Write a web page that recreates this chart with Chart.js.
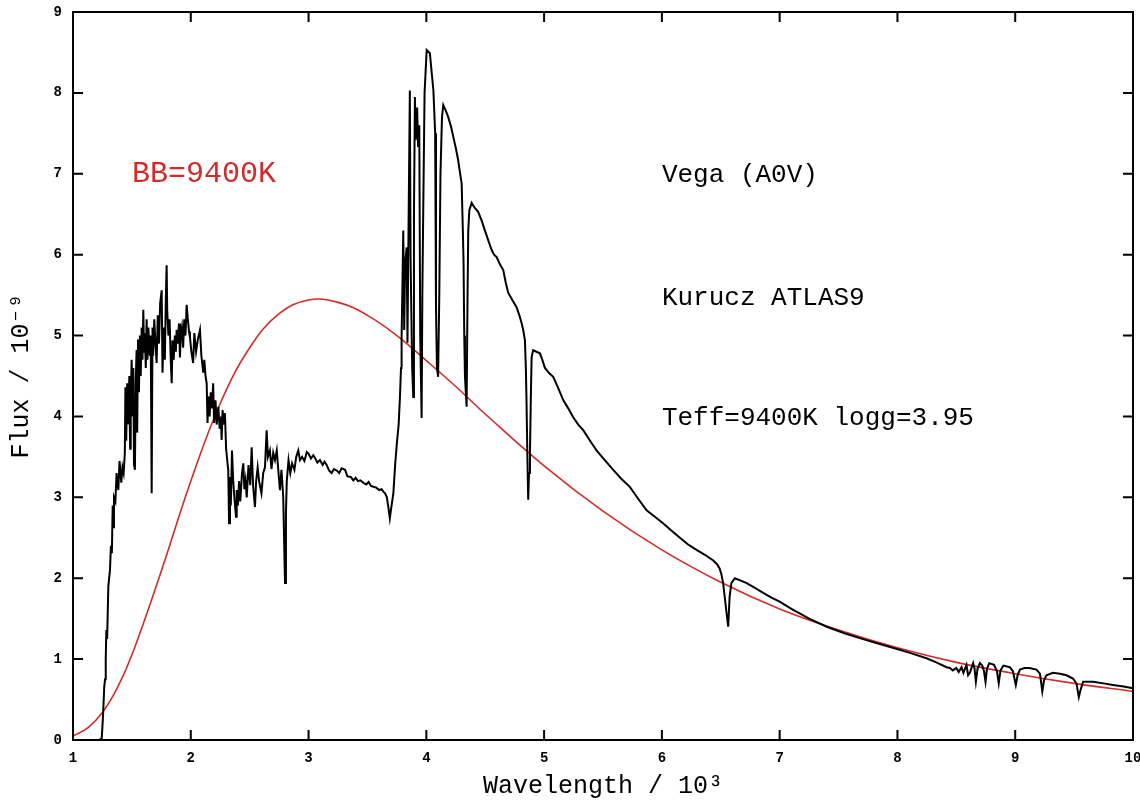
<!DOCTYPE html>
<html>
<head>
<meta charset="utf-8">
<script src="https://cdn.jsdelivr.net/npm/chart.js@4.4.1/dist/chart.umd.min.js"></script>
<style>
  html, body { margin: 0; padding: 0; background: #fff; }
  #wrap { width: 1140px; height: 809px; }
</style>
</head>
<body>
<div id="wrap"><canvas id="spectrum" width="1140" height="809"></canvas></div>
<script>
// Kurucz model spectrum of Vega (wavelength / 10^3, flux / 10^-9)
const specWave = [
  1.00, 1.22, 1.244, 1.255, 1.265, 1.272, 1.278, 1.283, 1.29, 1.30, 1.314, 1.322, 1.33, 1.337, 1.343, 1.348,
  1.36, 1.37, 1.385, 1.395, 1.41, 1.42, 1.43, 1.44, 1.445, 1.452, 1.46, 1.47, 1.478, 1.485, 1.49, 1.498,
  1.505, 1.512, 1.518, 1.526, 1.532, 1.54, 1.545, 1.552, 1.56, 1.568, 1.575, 1.583, 1.59, 1.597, 1.603, 1.61,
  1.618, 1.625, 1.632, 1.64, 1.652, 1.66, 1.668, 1.675, 1.68, 1.69, 1.70, 1.71, 1.72, 1.73, 1.74, 1.753,
  1.76, 1.77, 1.78, 1.788, 1.795, 1.80, 1.81, 1.82, 1.83, 1.838, 1.845, 1.855, 1.865, 1.873, 1.88, 1.89,
  1.90, 1.908, 1.915, 1.925, 1.935, 1.945, 1.955, 1.965, 1.975, 1.985, 1.993, 2.005, 2.02, 2.03, 2.045, 2.06,
  2.078, 2.09, 2.106, 2.115, 2.125, 2.135, 2.142, 2.15, 2.16, 2.17, 2.18, 2.19, 2.198, 2.21, 2.22, 2.234,
  2.245, 2.255, 2.262, 2.27, 2.28, 2.29, 2.30, 2.31, 2.318, 2.325, 2.333, 2.34, 2.35, 2.36, 2.37, 2.384,
  2.39, 2.40, 2.41, 2.42, 2.435, 2.446, 2.455, 2.465, 2.475, 2.49, 2.505, 2.517, 2.525, 2.53, 2.545, 2.555,
  2.568, 2.58, 2.60, 2.615, 2.63, 2.644, 2.655, 2.672, 2.685, 2.70, 2.715, 2.73, 2.745, 2.757, 2.77, 2.785,
  2.80, 2.808, 2.815, 2.83, 2.845, 2.86, 2.88, 2.895, 2.913, 2.927, 2.945, 2.965, 2.985, 3.00, 3.02, 3.04,
  3.054, 3.075, 3.097, 3.12, 3.135, 3.154, 3.175, 3.196, 3.215, 3.24, 3.26, 3.28, 3.31, 3.33, 3.36, 3.38,
  3.40, 3.42, 3.44, 3.465, 3.49, 3.51, 3.53, 3.55, 3.575, 3.60, 3.62, 3.634, 3.65, 3.665, 3.68, 3.69,
  3.70, 3.72, 3.735, 3.75, 3.765, 3.776, 3.785, 3.79, 3.797, 3.804, 3.812, 3.82, 3.833, 3.84, 3.85, 3.86,
  3.866, 3.872, 3.88, 3.889, 3.895, 3.903, 3.91, 3.922, 3.93, 3.94, 3.948, 3.96, 3.966, 3.975, 3.985, 4.003,
  4.03, 4.06, 4.075, 4.082, 4.09, 4.10, 4.11, 4.12, 4.133, 4.144, 4.165, 4.186, 4.21, 4.23, 4.25, 4.27,
  4.285, 4.30, 4.31, 4.316, 4.322, 4.328, 4.342, 4.35, 4.356, 4.365, 4.385, 4.41, 4.44, 4.47, 4.497, 4.525,
  4.554, 4.575, 4.597, 4.625, 4.653, 4.675, 4.695, 4.73, 4.766, 4.79, 4.81, 4.825, 4.837, 4.845, 4.85, 4.858,
  4.865, 4.872, 4.88, 4.888, 4.894, 4.907, 4.935, 4.964, 4.985, 5.007, 5.04, 5.077, 5.12, 5.163, 5.205, 5.247,
  5.29, 5.332, 5.39, 5.445, 5.515, 5.587, 5.655, 5.728, 5.80, 5.87, 5.94, 6.01, 6.08, 6.153, 6.22, 6.294,
  6.365, 6.436, 6.47, 6.49, 6.505, 6.52, 6.535, 6.549, 6.563, 6.575, 6.59, 6.62, 6.67, 6.72, 6.79, 6.86,
  6.93, 7.00, 7.10, 7.25, 7.40, 7.55, 7.68, 7.82, 7.96, 8.10, 8.247, 8.33, 8.417, 8.445, 8.47, 8.50,
  8.52, 8.544, 8.56, 8.586, 8.60, 8.615, 8.643, 8.655, 8.666, 8.68, 8.70, 8.72, 8.735, 8.748, 8.76, 8.78,
  8.82, 8.845, 8.86, 8.875, 8.90, 8.954, 8.98, 9.005, 9.02, 9.04, 9.08, 9.12, 9.18, 9.21, 9.23, 9.245,
  9.265, 9.32, 9.38, 9.435, 9.49, 9.52, 9.54, 9.555, 9.576, 9.66, 9.75, 9.83, 9.92, 10.00
];
const specFlux = [
  0.00, 0.00, 0.02, 0.30, 0.65, 0.75, 1.00, 1.36, 1.25, 1.90, 2.10, 2.40, 2.31, 2.90, 2.63, 3.00,
  2.95, 3.30, 3.09, 3.45, 3.18, 3.37, 3.30, 3.55, 4.36, 3.70, 4.41, 3.90, 4.50, 3.60, 4.20, 4.70,
  4.00, 4.60, 3.40, 3.34, 4.40, 4.82, 3.80, 4.95, 4.30, 5.00, 4.50, 5.10, 4.70, 5.32, 4.80, 5.03,
  4.60, 5.20, 4.70, 5.10, 4.75, 5.00, 3.05, 5.10, 4.75, 5.20, 4.90, 4.66, 5.25, 4.90, 5.40, 5.56,
  4.54, 5.10, 4.70, 5.45, 5.87, 5.31, 5.00, 5.20, 4.70, 4.41, 4.94, 4.70, 5.00, 4.80, 5.07, 4.90,
  5.15, 4.73, 5.00, 5.10, 4.85, 5.20, 5.00, 5.38, 5.20, 5.05, 4.98, 4.80, 4.66, 5.03, 4.80, 4.95,
  5.07, 4.75, 4.54, 4.70, 4.50, 4.41, 3.92, 4.25, 4.00, 4.30, 4.10, 4.41, 3.92, 4.20, 3.90, 4.12,
  3.85, 4.00, 3.71, 4.08, 3.90, 4.04, 3.60, 3.45, 3.34, 2.68, 3.25, 2.90, 3.58, 3.21, 3.00, 2.76,
  3.09, 2.90, 3.20, 2.95, 3.30, 3.42, 3.10, 3.21, 3.00, 3.40, 3.15, 3.62, 3.30, 3.13, 2.88, 3.20,
  3.37, 3.20, 3.05, 3.30, 3.37, 3.83, 3.50, 3.58, 3.35, 3.55, 3.46, 3.58, 3.30, 3.09, 3.34, 3.00,
  1.94, 2.80, 3.20, 3.46, 3.30, 3.42, 3.34, 3.50, 3.58, 3.46, 3.50, 3.45, 3.56, 3.54, 3.48, 3.52,
  3.49, 3.43, 3.46, 3.40, 3.44, 3.40, 3.33, 3.30, 3.35, 3.33, 3.30, 3.36, 3.34, 3.26, 3.25, 3.21,
  3.24, 3.20, 3.21, 3.18, 3.16, 3.19, 3.14, 3.13, 3.12, 3.09, 3.10, 3.07, 3.05, 3.00, 2.85, 2.74,
  2.85, 3.05, 3.40, 3.67, 3.90, 4.24, 4.60, 4.98, 5.60, 6.30, 5.07, 5.90, 6.09, 4.91, 6.50, 8.03,
  6.00, 5.35, 4.60, 4.24, 6.50, 7.95, 7.42, 7.82, 7.33, 7.60, 5.00, 3.98, 5.50, 6.71, 8.00, 8.53,
  8.49, 8.03, 7.50, 5.35, 4.60, 4.49, 5.50, 7.00, 7.70, 7.85, 7.78, 7.70, 7.58, 7.45, 7.32, 7.17,
  7.02, 6.88, 6.30, 5.90, 5.00, 4.49, 4.12, 5.50, 6.30, 6.55, 6.64, 6.58, 6.53, 6.42, 6.30, 6.18,
  6.06, 6.00, 5.97, 5.88, 5.81, 5.65, 5.53, 5.44, 5.35, 5.25, 5.15, 5.05, 4.94, 4.60, 4.24, 3.50,
  2.97, 3.30, 3.55, 4.30, 4.73, 4.82, 4.80, 4.78, 4.70, 4.60, 4.54, 4.49, 4.35, 4.20, 4.10, 3.99,
  3.90, 3.83, 3.70, 3.58, 3.46, 3.34, 3.23, 3.13, 2.98, 2.84, 2.76, 2.68, 2.59, 2.50, 2.42, 2.35,
  2.29, 2.22, 2.17, 2.12, 2.05, 1.94, 1.75, 1.57, 1.40, 1.77, 1.94, 2.00, 1.97, 1.94, 1.88, 1.82,
  1.76, 1.71, 1.62, 1.50, 1.40, 1.32, 1.26, 1.20, 1.14, 1.08, 1.01, 0.96, 0.90, 0.89, 0.86, 0.89,
  0.84, 0.90, 0.83, 0.93, 0.80, 0.83, 0.95, 0.88, 0.72, 0.88, 0.95, 0.92, 0.85, 0.72, 0.88, 0.95,
  0.93, 0.85, 0.70, 0.86, 0.92, 0.90, 0.85, 0.68, 0.80, 0.87, 0.89, 0.89, 0.87, 0.82, 0.60, 0.74,
  0.80, 0.83, 0.82, 0.80, 0.76, 0.70, 0.53, 0.62, 0.72, 0.72, 0.70, 0.68, 0.66, 0.64
];

// Blackbody curve (red)
const bbWave = [1.00, 1.125, 1.25, 1.375, 1.50, 1.75, 2.00, 2.25, 2.50, 2.75, 3.00, 3.25, 3.50, 3.75, 4.00, 4.25, 4.50, 5.00, 5.50, 6.00, 6.50, 7.00, 7.50, 8.00, 8.50, 9.00, 9.50, 10.00];
const bbFlux = [0.05, 0.15, 0.34, 0.64, 1.05, 2.09, 3.20, 4.16, 4.85, 5.27, 5.44, 5.41, 5.25, 5.00, 4.69, 4.37, 4.03, 3.39, 2.83, 2.35, 1.95, 1.62, 1.36, 1.14, 0.96, 0.82, 0.70, 0.60];

const xTicks = [1, 2, 3, 4, 5, 6, 7, 8, 9, 10];
const yTicks = [0, 1, 2, 3, 4, 5, 6, 7, 8, 9];

const MONO = '"Liberation Mono", "DejaVu Sans Mono", monospace';
const RED = '#d42a2a';

const toPoints = (xs, ys) => xs.map((x, i) => ({ x: x, y: ys[i] }));

// frame + inward tick marks on all four sides, plus the text labels
const framePlugin = {
  id: 'frame',
  afterDatasetsDraw(chart) {
    const { ctx, chartArea: a, scales } = chart;
    const xs = scales.x, ys = scales.y;
    ctx.save();
    ctx.strokeStyle = '#000';
    ctx.lineWidth = 2;
    ctx.strokeRect(a.left, a.top, a.right - a.left, a.bottom - a.top);
    const len = 10;
    ctx.beginPath();
    xTicks.forEach(v => {
      const px = xs.getPixelForValue(v);
      ctx.moveTo(px, a.bottom); ctx.lineTo(px, a.bottom - len);
      ctx.moveTo(px, a.top); ctx.lineTo(px, a.top + len);
    });
    yTicks.forEach(v => {
      const py = ys.getPixelForValue(v);
      ctx.moveTo(a.left, py); ctx.lineTo(a.left + len, py);
      ctx.moveTo(a.right, py); ctx.lineTo(a.right - len, py);
    });
    ctx.stroke();

    ctx.textBaseline = 'alphabetic';
    ctx.textAlign = 'left';
    ctx.font = '30px ' + MONO;
    ctx.fillStyle = RED;
    ctx.fillText('BB=9400K', xs.getPixelForValue(1.5), ys.getPixelForValue(6.9));
    ctx.fillStyle = '#000';
    ctx.font = '26px ' + MONO;
    ctx.fillText('Vega (A0V)', xs.getPixelForValue(6.0), ys.getPixelForValue(6.9));
    ctx.fillText('Kurucz ATLAS9', xs.getPixelForValue(6.0), ys.getPixelForValue(5.38));
    ctx.fillText('Teff=9400K logg=3.95', xs.getPixelForValue(6.0), ys.getPixelForValue(3.9));
    ctx.restore();
  }
};

new Chart(document.getElementById('spectrum'), {
  type: 'line',
  data: {
    datasets: [
      {
        label: 'Kurucz ATLAS9',
        data: toPoints(specWave, specFlux),
        borderColor: '#000',
        borderWidth: 2,
        pointRadius: 0,
        tension: 0,
        fill: false
      },
      {
        label: 'BB=9400K',
        data: toPoints(bbWave, bbFlux),
        borderColor: RED,
        borderWidth: 1.6,
        pointRadius: 0,
        tension: 0.4,
        fill: false
      }
    ]
  },
  options: {
    responsive: false,
    animation: false,
    layout: { padding: { top: 12, right: 7, left: 0, bottom: 0 } },
    plugins: {
      legend: { display: false },
      tooltip: { enabled: false }
    },
    scales: {
      x: {
        type: 'linear',
        min: 1,
        max: 10,
        afterFit: s => { s.height = 69; s.paddingLeft = 0; s.paddingRight = 0; },
        afterBuildTicks: s => { s.ticks = xTicks.map(v => ({ value: v })); },
        grid: { display: false, drawTicks: false },
        border: { display: false },
        ticks: {
          color: '#000',
          padding: 10,
          font: { family: MONO, size: 14, weight: 'bold' },
          maxRotation: 0
        },
        title: {
          display: true,
          text: 'Wavelength / 10³',
          color: '#000',
          font: { family: MONO, size: 25 },
          padding: { top: 0, bottom: 8 }
        }
      },
      y: {
        type: 'linear',
        min: 0,
        max: 9,
        afterFit: s => { s.width = 73; s.paddingTop = 0; s.paddingBottom = 0; },
        afterBuildTicks: s => { s.ticks = yTicks.map(v => ({ value: v })); },
        grid: { display: false, drawTicks: false },
        border: { display: false },
        ticks: {
          color: '#000',
          padding: 11,
          font: { family: MONO, size: 14, weight: 'bold' }
        },
        title: {
          display: true,
          text: 'Flux / 10⁻⁹',
          color: '#000',
          font: { family: MONO, size: 25 },
          padding: { top: 6, bottom: 0 }
        }
      }
    }
  },
  plugins: [framePlugin]
});
</script>
</body>
</html>
